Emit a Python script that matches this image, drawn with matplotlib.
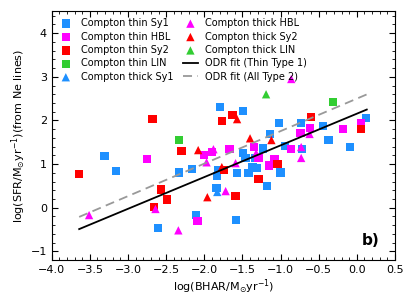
import matplotlib
matplotlib.use("Agg")
import matplotlib.pyplot as plt
from matplotlib.ticker import MultipleLocator
from matplotlib.lines import Line2D

plt.rcParams['font.family'] = ['DejaVu Sans']

# Compton thin Sy1 (blue squares)
thin_sy1_x = [-3.31, -3.16, -2.61, -2.33, -2.16, -2.11, -1.79, -1.82, -1.83, -1.84, -1.58, -1.57,
              -1.49, -1.02, -0.73, -1.14, -0.94, -0.72, -1.23, -1.49, -1.46, -1.33, -1.37, -1.42,
              -1.31, -1.18, -1.00, -0.37, -0.09, -0.44, 0.12]
thin_sy1_y = [1.18, 0.84, -0.47, 0.81, 0.88, -0.17, 2.31, 0.86, 0.72, 0.45, -0.29, 0.79,
              2.21, 1.94, 1.94, 1.69, 1.41, 1.34, 1.36, 1.25, 1.14, 1.14, 0.93, 0.79,
              0.91, 0.49, 0.81, 1.55, 1.39, 1.87, 2.05]
# Compton thin HBL (magenta squares)
thin_hbl_x = [-2.75, -2.09, -2.00, -1.90, -1.67, -1.35, -1.29, -1.08, -1.15, -0.86, -0.74, -0.61, -0.18, 0.05]
thin_hbl_y = [1.11, -0.31, 1.20, 1.27, 1.34, 1.39, 1.14, 1.11, 0.97, 1.34, 1.71, 1.82, 1.80, 1.94]
# Compton thin Sy2 (red squares)
thin_sy2_x = [-3.64, -2.68, -2.66, -2.57, -2.49, -2.30, -1.77, -1.63, -1.74, -1.59, -1.04, -1.29, -0.60, 0.05]
thin_sy2_y = [0.77, 2.03, 0.01, 0.42, 0.19, 1.30, 1.98, 2.12, 0.86, 0.26, 1.00, 0.65, 2.08, 1.80]
# Compton thin LIN (green squares)
thin_lin_x = [-2.33, -0.31]
thin_lin_y = [1.55, 2.42]
# Compton thick Sy1 (blue triangles)
thick_sy1_x = [-1.83]
thick_sy1_y = [0.36]
# Compton thick HBL (magenta triangles)
thick_hbl_x = [-3.51, -2.64, -2.34, -1.97, -1.88, -1.59, -1.72, -1.32, -0.73, -0.73, -0.62, -0.86]
thick_hbl_y = [-0.17, -0.03, -0.52, 1.04, 1.34, 1.02, 0.38, 1.25, 1.39, 1.14, 1.69, 2.95]
# Compton thick Sy2 (red triangles)
thick_sy2_x = [-2.08, -1.96, -1.77, -1.57, -1.40, -1.12]
thick_sy2_y = [1.32, 0.24, 0.93, 2.03, 1.59, 1.55]
# Compton thick LIN (green triangles)
thick_lin_x = [-1.19]
thick_lin_y = [2.60]

# ODR fits: slope, intercept, x-range
fit_x_range = [-3.64, 0.13]
fit_thin1 = [0.727, 2.155]
fit_all2 = [0.745, 2.50]

BLUE = '#1E90FF'
MAG = '#FF00FF'
RED = '#FF0000'
GREEN = '#32CD32'

fig = plt.figure(figsize=(4.15, 3.08), dpi=100)
ax = fig.add_axes([0.1246, 0.1558, 0.8272, 0.8072])

ms = 36
series = [
    (thin_sy1_x, thin_sy1_y, 's', BLUE, 'Compton thin Sy1'),
    (thin_hbl_x, thin_hbl_y, 's', MAG, 'Compton thin HBL'),
    (thin_sy2_x, thin_sy2_y, 's', RED, 'Compton thin Sy2'),
    (thin_lin_x, thin_lin_y, 's', GREEN, 'Compton thin LIN'),
    (thick_sy1_x, thick_sy1_y, '^', BLUE, 'Compton thick Sy1'),
    (thick_hbl_x, thick_hbl_y, '^', MAG, 'Compton thick HBL'),
    (thick_sy2_x, thick_sy2_y, '^', RED, 'Compton thick Sy2'),
    (thick_lin_x, thick_lin_y, '^', GREEN, 'Compton thick LIN'),
]
for xs, ys, m, c, lab in series:
    ax.scatter(xs, ys, marker=m, s=ms, c=c, edgecolors='none', label=lab, zorder=3)

xs = fit_x_range
ax.plot(xs, [fit_thin1[0] * v + fit_thin1[1] for v in xs], color='black', lw=1.3,
        label='ODR fit (Thin Type 1)', zorder=4)
ax.plot(xs, [fit_all2[0] * v + fit_all2[1] for v in xs], color='#999999', lw=1.3,
        ls=(0, (5, 3)), label='ODR fit (All Type 2)', zorder=4)

ax.set_xlim(-4.0, 0.5)
ax.set_ylim(-1.2, 4.5)
ax.xaxis.set_major_locator(MultipleLocator(0.5))
ax.xaxis.set_minor_locator(MultipleLocator(0.1))
ax.yaxis.set_major_locator(MultipleLocator(1))
ax.yaxis.set_minor_locator(MultipleLocator(0.2))
ax.tick_params(which='both', direction='in', top=True, right=True, labelsize=8)
ax.tick_params(which='major', length=4)
ax.tick_params(which='minor', length=2)

ax.set_xlabel(r'log(BHAR/M$_{\odot}$yr$^{-1}$)', fontsize=8, labelpad=2)
ax.set_ylabel(r'log(SFR/M$_{\odot}$yr$^{-1}$)(from Ne lines)', fontsize=8, labelpad=2)

ax.text(0.928, 0.08, 'b)', transform=ax.transAxes, fontsize=11, fontweight='bold',
        ha='center', va='center')

ax.legend(loc='upper left', ncol=2, frameon=False, fontsize=7, handlelength=1.5,
          handletextpad=0.8, columnspacing=1.0, labelspacing=0.35, borderaxespad=0.3,
          scatterpoints=1)

fig.savefig('out.png', dpi=100)
